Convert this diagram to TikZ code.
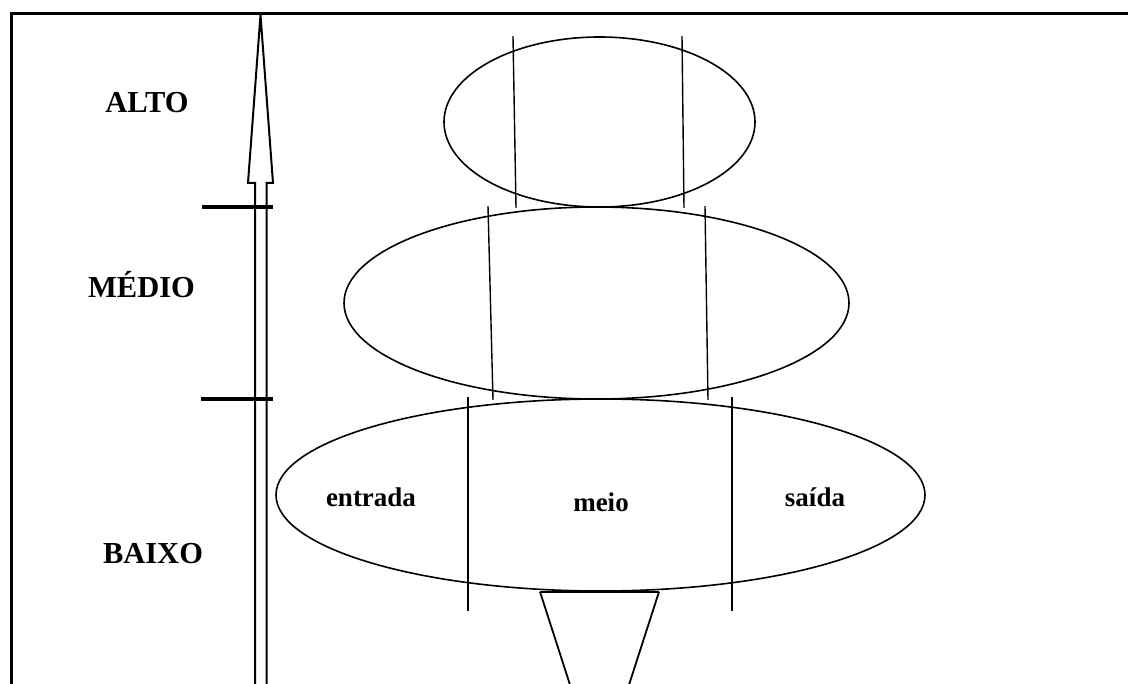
\documentclass[tikz,border=0pt]{standalone}
\usepackage{fontspec}
\setmainfont{Liberation Serif}
\usetikzlibrary{shapes.geometric,calc}
\tikzset{
  layer/.style = {draw, ellipse, inner sep=0pt, line width=1.6pt},
  cut/.style   = {line width=1.4pt},
  level/.style = {font=\fontsize{30.5}{36}\selectfont\bfseries},
  part/.style  = {font=\fontsize{27}{32}\selectfont\bfseries},
  mark line/.style = {line width=3.5pt},
}

\begin{document}
\begin{tikzpicture}[x=1pt,y=-1pt]
  \useasboundingbox (0,0) rectangle (1128,684);
  \begin{scope}
  \clip (0,0) rectangle (1128,684);
  % frame
  \draw[line width=3pt] (11,684) -- (11,14) -- (1128,14);
  % the three layers
  \node[layer, minimum width=311, minimum height=170] (alto) at (599.5,122) {};
  \node[layer, minimum width=505, minimum height=192] (medio) at (596.5,303) {};
  \node[layer, minimum width=649, minimum height=192] (baixo) at (600.5,495) {};
  % cuts through the layers
  \draw[cut] ($(alto.north)+(-86.5,0)$) -- ($(alto.south)+(-83.5,0)$);
  \draw[cut] ($(alto.north)+(82.5,0)$) -- ($(alto.south)+(84.5,0)$);
  \draw[cut] ($(medio.north)+(-108.5,0)$) -- ($(medio.south)+(-103.5,0)$);
  \draw[cut] ($(medio.north)+(108.5,0)$) -- ($(medio.south)+(111.5,0)$);
  \draw[cut] ($(baixo.north)+(-132.5,-1)$) -- ($(baixo.south)+(-132.5,19)$);
  \draw[cut] ($(baixo.north)+(131.5,-1)$) -- ($(baixo.south)+(131.5,19)$);
  % funnel below
  \coordinate (fl) at ($(baixo.south)+(-60.5,0)$);
  \coordinate (fr) at ($(baixo.south)+(58.5,0)$);
  \draw[line width=1.8pt] (fl) -- (fr);
  \draw[line width=1.8pt] (fl) -- ($(fl)+(30,93)$);
  \draw[line width=1.8pt] (fr) -- ($(fr)+(-30,93)$);
  % level arrow
  \draw[line width=2pt, line join=miter] (255,690) -- (255,183) -- (248,183)
    -- (260.5,15) -- (273,183) -- (266.5,183) -- (266.5,690);
  \draw[mark line] (202,207) -- (273,207);
  \draw[mark line] (201,399) -- (273,399);
  % labels
  \node[level] (lalto) at (147,103) {ALTO};
  \node[level] (lmedio) at (141.5,285) {MÉDIO};
  \node[level] (lbaixo) at (153,554) {BAIXO};
  \node[part] (entrada) at (371,497) {entrada};
  \node[part] (meio) at (601,502) {meio};
  \node[part] (saida) at (815,497) {saída};
  \end{scope}
\end{tikzpicture}
\end{document}
